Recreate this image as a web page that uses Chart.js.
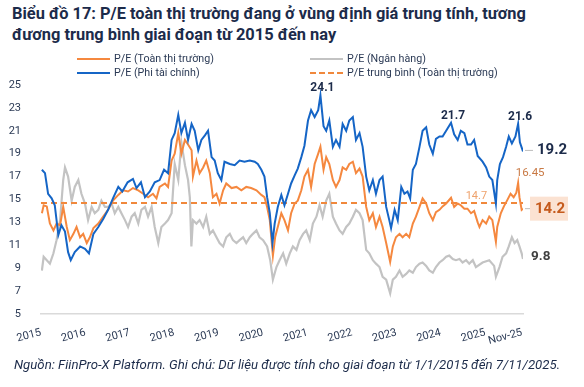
<!DOCTYPE html>
<html lang="vi">
<head>
<meta charset="UTF-8">
<script src="https://cdn.jsdelivr.net/npm/chart.js"></script>
<title>P/E toàn thị trường</title>
<style>
  body { margin: 0; width: 584px; height: 387px; position: relative; background: #fff; overflow: hidden;
         font-family: Roboto, "Noto Sans", sans-serif; }
  #title { position: absolute; left: 12px; top: 3px; font-weight: 700; font-size: 16.4px; line-height: 21px; color: #1c2b4a; }
  #pe { position: absolute; left: 0; top: 0; }
  .leg { position: absolute; font-size: 10.7px; color: #2b3a55; display: flex; align-items: center; white-space: nowrap; }
  .leg i { display: inline-block; width: 33px; height: 0; border-top: 2.5px solid; margin-right: 4px; }
  #note { position: absolute; left: 14px; top: 357px; font-style: italic; font-size: 13.2px; color: #1c2b4a; white-space: nowrap; }
</style>
</head>
<body>
<div id="title">Biểu đồ 17: P/E toàn thị trường đang ở vùng định giá trung tính, tương<br>đương trung bình giai đoạn từ 2015 đến nay</div>
<canvas id="pe" width="584" height="387"></canvas>
<div id="legend"></div>
<div id="note">Nguồn: FiinPro-X Platform. Ghi chú: Dữ liệu được tính cho giai đoạn từ 1/1/2015 đến 7/11/2025.</div>

<script>
// series names, same order as the legend
const seriesNames = ['P/E (Toàn thị trường)', 'P/E (Ngân hàng)', 'P/E (Phi tài chính)', 'P/E trung bình (Toàn thị trường)'];

// x axis ticks
const xTickValues = [2015, 2016, 2017, 2018, 2019, 2020, 2021, 2022, 2023, 2024, 2025, 2025.83];
const xTickLabels = ['2015', '2016', '2017', '2018', '2019', '2020', '2021', '2022', '2023', '2024', '2025', 'Nov-25'];

// P/E (Phi tài chính)
const nonFinYears = [2015.02, 2015.09, 2015.16, 2015.24, 2015.31, 2015.39, 2015.46, 2015.54, 2015.61, 2015.67, 2015.76, 2015.88, 2015.99,
  2016.08, 2016.18, 2016.29, 2016.40, 2016.51, 2016.62, 2016.74, 2016.83, 2016.95, 2017.07, 2017.15, 2017.25, 2017.34, 2017.45,
  2017.56, 2017.67, 2017.77, 2017.86, 2017.94, 2018.01, 2018.09, 2018.16, 2018.24, 2018.31, 2018.39, 2018.46, 2018.54, 2018.61,
  2018.69, 2018.76, 2018.84, 2018.91, 2018.98, 2019.06, 2019.13, 2019.25, 2019.36, 2019.47, 2019.58, 2019.70, 2019.81, 2019.88,
  2019.96, 2020.03, 2020.09, 2020.15, 2020.21, 2020.26, 2020.33, 2020.41, 2020.48, 2020.56, 2020.63, 2020.71, 2020.78, 2020.86,
  2020.93, 2021.01, 2021.08, 2021.16, 2021.24, 2021.29, 2021.36, 2021.42, 2021.49, 2021.57, 2021.64, 2021.72, 2021.79, 2021.87,
  2021.94, 2022.02, 2022.09, 2022.17, 2022.24, 2022.32, 2022.39, 2022.47, 2022.54, 2022.62, 2022.69, 2022.77, 2022.84, 2022.88,
  2022.96, 2023.03, 2023.11, 2023.18, 2023.25, 2023.31, 2023.37, 2023.44, 2023.52, 2023.59, 2023.67, 2023.74, 2023.82, 2023.89,
  2023.97, 2024.04, 2024.12, 2024.23, 2024.30, 2024.38, 2024.45, 2024.53, 2024.60, 2024.68, 2024.75, 2024.83, 2024.94, 2025.02,
  2025.09, 2025.16, 2025.24, 2025.27, 2025.33, 2025.40, 2025.47, 2025.53, 2025.60, 2025.68, 2025.74, 2025.78, 2025.85];
const nonFinPE = [17.6, 17.3, 15.5, 15.1, 14.5, 11.9, 12.75, 12.2, 10.4, 9.7, 10.4, 10.9, 10.7,
  10.3, 12.0, 12.6, 13.3, 14.1, 15.1, 16.1, 15.7, 16.5, 16.8, 16.0, 16.5, 15.2, 15.7,
  16.5, 16.7, 17.6, 17.3, 20.2, 20.8, 22.4, 20.8, 21.7, 20.2, 21.6, 21.0, 19.3, 20.2,
  20.6, 21.0, 18.7, 18.4, 17.3, 16.7, 18.3, 18.1, 18.0, 18.4, 18.3, 18.4, 18.3, 18.1,
  17.6, 17.0, 15.2, 13.8, 11.2, 12.9, 14.35, 15.4, 14.5, 15.5, 16.4, 17.1, 17.7, 18.7,
  19.7, 21.9, 22.8, 22.2, 22.8, 24.1, 21.4, 21.0, 21.9, 19.6, 20.2, 19.6, 21.6, 21.0,
  21.9, 22.2, 20.2, 20.8, 19.6, 17.0, 15.8, 16.7, 15.5, 16.7, 17.0, 14.35, 13.2, 12.5,
  14.1, 13.2, 16.1, 15.5, 15.7, 15.1, 17.6, 18.1, 19.6, 21.0, 21.3, 19.8, 19.0, 20.3,
  20.5, 20.5, 21.0, 21.7, 20.7, 20.2, 21.0, 20.8, 19.8, 19.8, 20.2, 18.8, 18.3, 17.8,
  17.0, 16.7, 14.65, 16.7, 18.1, 18.7, 19.6, 20.5, 19.9, 20.5, 21.6, 20.0, 19.2];

// P/E (Toàn thị trường)
const marketYears = [2015.02, 2015.06, 2015.13, 2015.20, 2015.28, 2015.35, 2015.43, 2015.50, 2015.58, 2015.65, 2015.73, 2015.80, 2015.88,
  2015.95, 2016.03, 2016.10, 2016.18, 2016.29, 2016.40, 2016.51, 2016.62, 2016.74, 2016.85, 2016.96, 2017.07, 2017.19, 2017.30,
  2017.41, 2017.52, 2017.60, 2017.67, 2017.79, 2017.86, 2017.94, 2018.01, 2018.09, 2018.16, 2018.24, 2018.31, 2018.39, 2018.42,
  2018.50, 2018.57, 2018.65, 2018.72, 2018.80, 2018.87, 2018.95, 2019.02, 2019.10, 2019.17, 2019.29, 2019.40, 2019.51, 2019.62,
  2019.73, 2019.85, 2019.96, 2020.03, 2020.09, 2020.15, 2020.22, 2020.27, 2020.33, 2020.41, 2020.48, 2020.56, 2020.63, 2020.71,
  2020.78, 2020.86, 2020.93, 2021.01, 2021.08, 2021.16, 2021.24, 2021.29, 2021.36, 2021.42, 2021.49, 2021.57, 2021.64, 2021.72,
  2021.79, 2021.87, 2021.94, 2022.02, 2022.09, 2022.17, 2022.24, 2022.32, 2022.39, 2022.47, 2022.54, 2022.62, 2022.69, 2022.77,
  2022.86, 2022.92, 2022.99, 2023.07, 2023.14, 2023.22, 2023.29, 2023.37, 2023.44, 2023.52, 2023.59, 2023.67, 2023.74, 2023.82,
  2023.89, 2023.97, 2024.04, 2024.12, 2024.23, 2024.30, 2024.38, 2024.45, 2024.53, 2024.60, 2024.68, 2024.75, 2024.83, 2024.87,
  2024.94, 2025.02, 2025.09, 2025.16, 2025.24, 2025.27, 2025.35, 2025.42, 2025.49, 2025.57, 2025.64, 2025.70, 2025.74, 2025.77,
  2025.82, 2025.85];
const marketPE = [13.8, 14.5, 14.4, 12.9, 12.3, 12.9, 12.75, 14.35, 12.6, 11.45, 12.0, 12.6, 11.7,
  12.0, 11.2, 11.7, 12.5, 12.9, 13.5, 14.1, 14.9, 15.4, 15.8, 15.7, 16.0, 15.8, 15.5,
  15.2, 15.5, 15.1, 16.1, 16.4, 16.1, 18.4, 19.0, 20.8, 19.0, 20.2, 19.8, 19.3, 17.0,
  18.4, 17.3, 17.8, 18.4, 17.3, 15.2, 15.5, 14.65, 15.8, 16.4, 16.0, 16.1, 15.8, 16.1,
  16.0, 15.8, 15.4, 15.2, 14.35, 13.2, 10.1, 11.7, 12.6, 13.8, 13.2, 12.3, 13.8, 14.65,
  14.9, 15.8, 17.0, 17.6, 16.1, 18.1, 19.0, 19.6, 17.6, 18.7, 18.1, 16.7, 16.1, 16.7,
  17.8, 17.6, 18.1, 18.3, 17.3, 17.7, 17.0, 14.35, 13.2, 13.8, 12.6, 13.5, 12.6, 11.2,
  9.55, 10.9, 11.7, 12.0, 11.7, 12.0, 11.7, 12.9, 13.5, 14.35, 15.1, 14.65, 13.8, 13.2,
  13.9, 14.1, 14.4, 14.65, 15.15, 14.35, 14.65, 14.5, 14.2, 14.2, 13.8, 14.0, 13.0, 12.6,
  13.2, 12.9, 13.5, 13.2, 11.3, 12.6, 13.8, 14.4, 14.9, 15.5, 15.2, 15.6, 16.45, 15.2,
  14.1, 14.2];

// P/E (Ngân hàng)
const bankYears = [2015.02, 2015.06, 2015.13, 2015.20, 2015.28, 2015.35, 2015.43, 2015.50, 2015.54, 2015.61, 2015.69, 2015.76, 2015.84,
  2015.91, 2015.99, 2016.06, 2016.14, 2016.21, 2016.29, 2016.36, 2016.44, 2016.51, 2016.59, 2016.66, 2016.74, 2016.81, 2016.89,
  2016.96, 2017.04, 2017.11, 2017.19, 2017.26, 2017.34, 2017.41, 2017.49, 2017.56, 2017.64, 2017.71, 2017.79, 2017.86, 2017.94,
  2018.01, 2018.09, 2018.16, 2018.24, 2018.31, 2018.35, 2018.385, 2018.42, 2018.50, 2018.57, 2018.65, 2018.72, 2018.80, 2018.87,
  2018.95, 2019.02, 2019.10, 2019.17, 2019.25, 2019.32, 2019.40, 2019.47, 2019.55, 2019.62, 2019.70, 2019.77, 2019.85, 2019.92,
  2020.00, 2020.09, 2020.16, 2020.22, 2020.30, 2020.37, 2020.45, 2020.52, 2020.60, 2020.67, 2020.75, 2020.82, 2020.90, 2020.97,
  2021.05, 2021.12, 2021.20, 2021.27, 2021.34, 2021.42, 2021.49, 2021.57, 2021.64, 2021.72, 2021.79, 2021.87, 2021.94, 2022.02,
  2022.09, 2022.17, 2022.24, 2022.32, 2022.39, 2022.47, 2022.54, 2022.62, 2022.69, 2022.77, 2022.86, 2022.92, 2022.99, 2023.07,
  2023.14, 2023.22, 2023.29, 2023.37, 2023.44, 2023.52, 2023.59, 2023.67, 2023.74, 2023.82, 2023.89, 2023.97, 2024.04, 2024.12,
  2024.19, 2024.27, 2024.34, 2024.42, 2024.49, 2024.57, 2024.64, 2024.72, 2024.79, 2024.94, 2025.09, 2025.20, 2025.24, 2025.32,
  2025.39, 2025.47, 2025.53, 2025.60, 2025.66, 2025.72, 2025.77, 2025.82, 2025.85];
const bankPE = [8.8, 10.0, 9.7, 9.4, 10.3, 11.45, 13.2, 16.7, 17.8, 17.0, 14.9, 16.1, 16.7,
  15.5, 14.65, 13.2, 14.35, 13.8, 14.1, 14.9, 14.35, 14.35, 14.65, 13.8, 14.35, 13.8, 13.2,
  12.6, 13.5, 13.8, 12.9, 14.1, 14.35, 13.5, 14.35, 12.6, 11.2, 12.6, 12.9, 13.2, 13.8,
  18.1, 16.7, 20.0, 18.0, 16.7, 15.2, 10.9, 13.2, 12.9, 13.2, 12.6, 13.5, 12.0, 12.3,
  11.7, 11.2, 10.9, 11.7, 12.0, 11.45, 11.2, 11.45, 11.7, 11.2, 11.7, 12.0, 12.3, 11.7,
  11.45, 10.9, 9.7, 8.0, 9.1, 9.7, 10.3, 9.4, 10.3, 10.9, 10.6, 11.45, 12.0, 12.3,
  11.45, 12.9, 13.5, 14.5, 13.5, 14.9, 15.5, 13.5, 12.9, 12.3, 12.0, 12.6, 12.9, 13.5,
  14.1, 13.8, 13.2, 10.6, 10.3, 9.7, 9.4, 9.1, 8.25, 8.0, 6.8, 8.0, 8.25, 8.8,
  8.25, 8.5, 8.8, 8.6, 9.1, 9.4, 9.5, 9.2, 8.8, 8.6, 9.1, 9.5, 9.7, 10.0,
  10.1, 9.8, 9.7, 9.8, 9.5, 9.7, 9.4, 9.7, 9.1, 9.5, 9.7, 9.2, 8.25, 9.1,
  10.0, 10.3, 10.9, 11.7, 11.2, 11.45, 10.9, 10.3, 9.8];

// trung bình toàn thị trường
const meanYears = [2015, 2025.85];
const meanPE = [14.7, 14.7];

// labels written on the chart
const peakYears = [2021.29, 2024.23, 2025.74];
const peakValues = [24.1, 21.7, 21.6];

const pts = (xs, ys) => xs.map((x, i) => ({ x: x, y: ys[i] }));

const navy = '#1c2b4a';
const colors = ['#f5883f', '#c3c3c3', '#1565c6', '#f0883c'];

// legend (two columns, two rows)
const legendPos = [[77, 52], [310, 52], [77, 66], [310, 66]];
const legendEl = document.getElementById('legend');
seriesNames.forEach(function (name, i) {
    const d = document.createElement('div');
    d.className = 'leg';
    d.style.left = legendPos[i][0] + 'px';
    d.style.top = legendPos[i][1] + 'px';
    const dash = i === 3 ? 'dashed' : 'solid';
    d.innerHTML = '<i style="border-top-color:' + colors[i] + ';border-top-style:' + dash + '"></i>' + name;
    legendEl.appendChild(d);
});

const notesPlugin = {
    id: 'notes',
    afterDatasetsDraw(chart) {
        const ctx = chart.ctx;
        const x = chart.scales.x, y = chart.scales.y;
        const right = chart.chartArea.right;
        ctx.save();
        ctx.textBaseline = 'middle';

        // peak values of the non-financial line
        ctx.fillStyle = navy;
        ctx.font = 'bold 12px Roboto, sans-serif';
        ctx.textAlign = 'center';
        peakYears.forEach(function (yr, i) {
            ctx.fillText(peakValues[i].toFixed(1), x.getPixelForValue(yr) + 2, y.getPixelForValue(peakValues[i]) - 7);
        });

        // leader lines
        ctx.strokeStyle = '#bdbdbd';
        ctx.lineWidth = 1;
        const yBlue = y.getPixelForValue(nonFinPE[nonFinPE.length - 1]);
        const yOrange = y.getPixelForValue(marketPE[marketPE.length - 1]);
        ctx.beginPath();
        ctx.moveTo(right + 2, yBlue - 1); ctx.lineTo(right + 10, yBlue - 1);
        ctx.moveTo(right + 2, yOrange); ctx.lineTo(right + 7, yOrange);
        ctx.stroke();

        // end values
        ctx.textAlign = 'left';
        ctx.font = 'bold 15px Roboto, sans-serif';
        ctx.fillText(nonFinPE[nonFinPE.length - 1].toFixed(1), right + 14, yBlue - 1);

        ctx.fillStyle = '#fbe2d2';
        ctx.fillRect(right + 7, yOrange - 12, 38, 24);
        ctx.fillStyle = '#c55a1c';
        ctx.fillText(marketPE[marketPE.length - 1].toFixed(1), right + 12, yOrange + 1);

        ctx.fillStyle = '#3f3f3f';
        ctx.font = 'bold 13.5px Roboto, sans-serif';
        ctx.fillText(bankPE[bankPE.length - 1].toFixed(1), right + 8, y.getPixelForValue(bankPE[bankPE.length - 1]) - 2);

        // market peak and mean
        ctx.textAlign = 'center';
        ctx.font = '11.5px Roboto, sans-serif';
        ctx.fillStyle = '#c97a45';
        const mi = marketPE.indexOf(16.45);
        ctx.fillText('16.45', x.getPixelForValue(marketYears[mi]) + 12, y.getPixelForValue(16.45) - 10);
        ctx.fillStyle = '#eea26c';
        ctx.font = '11px Roboto, sans-serif';
        ctx.fillText(meanPE[0].toFixed(1), x.getPixelForValue(2024.8), y.getPixelForValue(meanPE[0]) - 7);
        ctx.restore();
    }
};

new Chart(document.getElementById('pe'), {
    type: 'line',
    data: {
        datasets: [
            { label: seriesNames[2], data: pts(nonFinYears, nonFinPE), borderColor: colors[2], borderWidth: 2, order: 0 },
            { label: seriesNames[0], data: pts(marketYears, marketPE), borderColor: colors[0], borderWidth: 2, order: 1 },
            { label: seriesNames[3], data: pts(meanYears, meanPE), borderColor: colors[3], borderWidth: 2, borderDash: [6, 4], order: 2 },
            { label: seriesNames[1], data: pts(bankYears, bankPE), borderColor: colors[1], borderWidth: 2.2, order: 3 }
        ]
    },
    options: {
        responsive: false,
        animation: false,
        layout: { padding: { left: 0, right: 61, top: 85, bottom: 43 } },
        elements: { point: { radius: 0 }, line: { tension: 0 } },
        plugins: { legend: { display: false }, tooltip: { enabled: false } },
        scales: {
            x: {
                type: 'linear',
                min: 2015,
                max: 2025.85,
                afterBuildTicks: function (s) { s.ticks = xTickValues.map(v => ({ value: v })); },
                afterFit: function (s) { s.height = 30; },
                grid: { display: false },
                border: { display: true, color: '#dadada', width: 1.5 },
                ticks: {
                    autoSkip: false, minRotation: 15, maxRotation: 15, padding: 4,
                    color: '#2b3a55', font: { family: 'Roboto', size: 11 },
                    callback: function (v, i) { return xTickLabels[i]; }
                }
            },
            y: {
                min: 5,
                max: 25,
                afterFit: function (s) { s.width = 41; },
                grid: { display: false },
                border: { display: false },
                ticks: { stepSize: 2, padding: 12, color: '#2b3a55', font: { family: 'Roboto', size: 11 } }
            }
        }
    },
    plugins: [notesPlugin]
});
</script>
</body>
</html>
